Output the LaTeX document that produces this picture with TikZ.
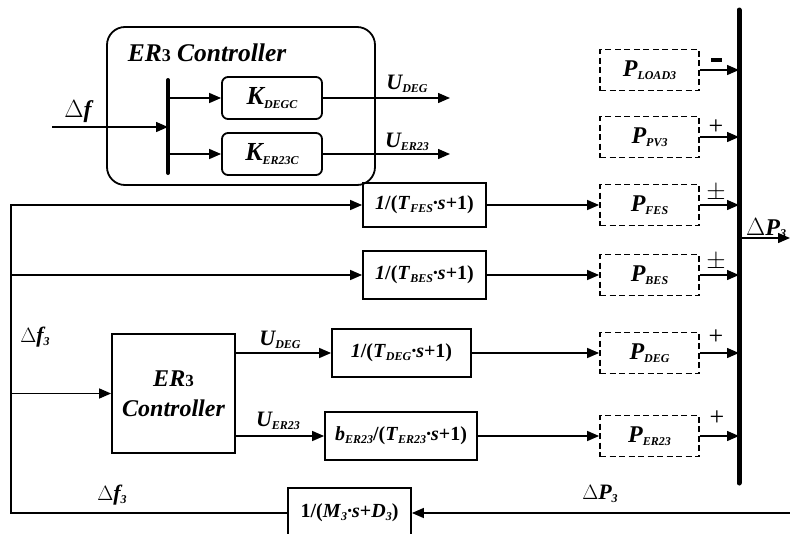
\documentclass[tikz,border=0pt]{standalone}
\usepackage{fontspec}
\setmainfont{Liberation Serif}
\usetikzlibrary{arrows.meta}
\newcommand\lsub[1]{\raisebox{-0.12em}{\fontsize{12}{12}\selectfont #1}}
\newcommand\bi{\bfseries\itshape}
\tikzset{
  tip/.style={-{Triangle[length=12pt,width=10pt]}},
  lnk/.style={line width=1.4pt},
  blk/.style={draw,line width=1.8pt,inner sep=0pt,font=\fontsize{20}{22}\selectfont\bfseries},
  pbox/.style={draw,line width=1.8pt,dash pattern=on 6pt off 3.5pt,minimum width=99pt,minimum height=41pt,inner sep=0pt,font=\fontsize{24}{24}\selectfont\bi},
  lbl/.style={inner sep=0pt,font=\fontsize{22}{24}\selectfont\bi},
  sgn/.style={inner sep=0pt,font=\fontsize{26}{26}\selectfont},
}
\begin{document}
\begin{tikzpicture}[x=1pt,y=-1pt]
\clip (0,0) rectangle (790,533);
% ---- top controller ----
\node[draw,line width=1.8pt,rounded corners=18pt,minimum width=268pt,minimum height=158pt] (topc) at (241,106) {};
\node[lbl,font=\fontsize{25.5}{26}\selectfont\bi] (topt) at (207,53) {ER\textup{\fontsize{18}{18}\selectfont 3} Controller};
\coordinate (bt) at (168,80);
\coordinate (bb) at (168,173);
\draw[line width=4pt,line cap=round] (bt) -- (bb);
\coordinate (fin) at (52,127);
\node[lbl,font=\fontsize{24}{24}\selectfont\bi] (df) at (78,112) {\textup{$\Delta$}f};
\draw[lnk,tip] (fin) -- (fin -| bt);
\node[blk,rounded corners=6pt,minimum width=100pt,minimum height=42pt,font=\fontsize{26}{26}\selectfont\bi] (kdeg) at (272,98) {K\lsub{DEGC}};
\node[blk,rounded corners=6pt,minimum width=100pt,minimum height=42pt,font=\fontsize{26}{26}\selectfont\bi] (ker) at (272,154) {K\lsub{ER23C}};
\draw[lnk,tip] (kdeg.west -| bt) -- (kdeg.west);
\draw[lnk,tip] (ker.west -| bt) -- (ker.west);
\coordinate (ud) at (450,98);
\coordinate (ue) at (450,154);
\draw[lnk,tip] (kdeg.east) -- (ud);
\draw[lnk,tip] (ker.east) -- (ue);
\node[lbl] (udl) at (407,84) {U\lsub{DEG}};
\node[lbl] (uel) at (407,142) {U\lsub{ER23}};
% ---- bus ----
\coordinate (busT) at (739,10);
\coordinate (busB) at (739,483);
\draw[line width=5pt,line cap=round] (busT) -- (busB);
\node[pbox] (pload) at (649.5,70) {P\lsub{LOAD3}};
\node[pbox] (ppv) at (649.5,137) {P\lsub{PV3}};
\node[pbox] (pfes) at (649.5,205) {P\lsub{FES}};
\node[pbox] (pbes) at (649.5,275) {P\lsub{BES}};
\node[pbox] (pdeg) at (649.5,353) {P\lsub{DEG}};
\node[pbox] (per) at (649.5,436) {P\lsub{ER23}};
\foreach \n in {pload,ppv,pfes,pbes,pdeg,per}{
  \draw[lnk,tip] (\n.east) -- (\n.east -| busT);
}
\node[fill,inner sep=0pt,minimum width=11pt,minimum height=4pt] (s1) at (716,60) {};
\node[sgn] (s2) at (716,127) {+};
\node[sgn] (s3) at (716,193) {$\pm$};
\node[sgn] (s4) at (716,262) {$\pm$};
\node[sgn] (s5) at (716,337) {+};
\node[sgn] (s6) at (717,418) {+};
\coordinate (pout) at (790,238);
\draw[lnk,tip] (busT |- pout) -- (pout);
\node[lbl,anchor=west,font=\fontsize{24}{24}\selectfont\bi] (dp3) at (746,228) {\textup{$\Delta$}P\lsub{3}};
% ---- left part ----
\coordinate (lt) at (11,205);
\coordinate (lb) at (11,513);
\node[blk,minimum width=123pt,minimum height=44pt] (fes) at (424.5,205) {\textit{1}/(\textit{T}\lsub{\textit{FES}}\textit{·s}+1)};
\node[blk,minimum width=123pt,minimum height=48pt] (bes) at (424.5,275) {\textit{1}/(\textit{T}\lsub{\textit{BES}}\textit{·s}+1)};
\node[blk,minimum width=123pt,minimum height=119pt,align=center,font=\fontsize{24}{30}\selectfont\bi] (ctrl) at (173.5,393.5) {ER\textup{\fontsize{17}{17}\selectfont 3}\\Controller};
\node[blk,minimum width=139pt,minimum height=48pt] (deg) at (401.5,353) {\textit{1}/(\textit{T}\lsub{\textit{DEG}}\textit{·s}+1)};
\node[blk,minimum width=152pt,minimum height=48pt] (er) at (401,436) {\textit{b}\lsub{\textit{ER23}}/(\textit{T}\lsub{\textit{ER23}}\textit{·s}+1)};
\node[blk,minimum width=123pt,minimum height=50pt] (m3) at (349.5,513) {1/(\textit{M}\lsub{\textit{3}}\textit{·s}+\textit{D}\lsub{\textit{3}})};
\coordinate (fbin) at (790,513);
\draw[lnk,tip] (fbin) -- (m3.east);
\draw[lnk,tip] (m3.west) -- (lb) -- (lt) -- (fes.west);
\draw[lnk,tip] (lt |- bes) -- (bes.west);
\draw[lnk,tip] (lt |- ctrl) -- (ctrl.west);
\draw[lnk,tip] (fes.east) -- (pfes.west);
\draw[lnk,tip] (bes.east) -- (pbes.west);
\draw[lnk,tip] (ctrl.east |- deg) -- (deg.west);
\draw[lnk,tip] (ctrl.east |- er) -- (er.west);
\draw[lnk,tip] (deg.east) -- (pdeg.west);
\draw[lnk,tip] (er.east) -- (per.west);
\node[lbl] (udl2) at (280,340) {U\lsub{DEG}};
\node[lbl] (uel2) at (278,421) {U\lsub{ER23}};
\node[lbl] (df3a) at (35,337) {\textup{$\Delta$}f\lsub{3}};
\node[lbl] (df3b) at (112,495) {\textup{$\Delta$}f\lsub{3}};
\node[lbl] (dp3b) at (600,494) {\textup{$\Delta$}P\lsub{3}};
\end{tikzpicture}
\end{document}
